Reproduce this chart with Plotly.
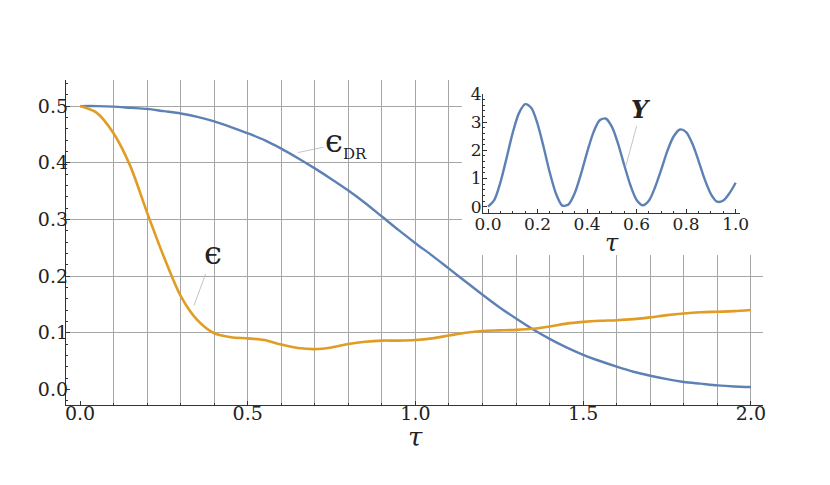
import plotly.graph_objects as go

# main panel
tau = [round(i * 0.05, 2) for i in range(41)]
eps_dr = [0.500, 0.500, 0.499, 0.497, 0.495, 0.491, 0.487, 0.481, 0.473, 0.463,
          0.452, 0.440, 0.425, 0.408, 0.390, 0.371, 0.351, 0.329, 0.305, 0.281,
          0.258, 0.236, 0.213, 0.190, 0.167, 0.145, 0.125, 0.106, 0.089, 0.074,
          0.061, 0.050, 0.040, 0.031, 0.024, 0.018, 0.013, 0.010, 0.007, 0.005,
          0.004]
eps = [0.500, 0.488, 0.452, 0.394, 0.312, 0.234, 0.165, 0.122, 0.099, 0.092,
       0.090, 0.087, 0.079, 0.073, 0.071, 0.074, 0.080, 0.084, 0.086, 0.086,
       0.087, 0.090, 0.095, 0.100, 0.103, 0.104, 0.105, 0.107, 0.111, 0.116,
       0.119, 0.121, 0.122, 0.124, 0.127, 0.131, 0.134, 0.136, 0.137, 0.138,
       0.140]

# inset
tau_in = [round(i * 0.025, 3) for i in range(41)]
y_in = [0.00, 0.23, 0.86, 1.73, 2.63, 3.32, 3.64, 3.50, 2.94, 2.10,
        1.19, 0.45, 0.04, 0.08, 0.48, 1.15, 1.93, 2.62, 3.06, 3.13,
        2.84, 2.24, 1.48, 0.76, 0.24, 0.05, 0.22, 0.70, 1.33, 2.00,
        2.50, 2.74, 2.65, 2.24, 1.63, 0.97, 0.45, 0.18, 0.22, 0.48,
        0.85]

grid_x = [round(0.1 * i, 1) for i in range(1, 21)]
grid_y = [0.1, 0.2, 0.3, 0.4, 0.5]
xticks = [0, 0.5, 1.0, 1.5, 2.0]
yticks = [0, 0.1, 0.2, 0.3, 0.4, 0.5]
xticks_in = [0, 0.2, 0.4, 0.6, 0.8, 1.0]
yticks_in = [0, 1, 2, 3, 4]

BLUE = '#5E81B5'
ORANGE = '#E19C24'
GRID = '#a6a6a6'
AX = '#333333'
FONT = 'DejaVu Serif'

xr = [-0.0417, 2.036]
yr = [-0.0277, 0.546]

fig = go.Figure()
fig.add_trace(go.Scatter(x=tau, y=eps_dr, mode='lines', line=dict(color=BLUE, width=2.4, shape='spline', smoothing=0.8)))
fig.add_trace(go.Scatter(x=tau, y=eps, mode='lines', line=dict(color=ORANGE, width=2.6, shape='spline', smoothing=0.8)))
# empty trace so the label axes exist
fig.add_trace(go.Scatter(x=[], y=[], xaxis='x3', yaxis='y3'))
fig.add_trace(go.Scatter(x=tau_in, y=y_in, mode='lines', xaxis='x2', yaxis='y2',
                         line=dict(color=BLUE, width=2.4, shape='spline', smoothing=0.8)))

fig.update_layout(
    template='none',
    width=830, height=485, showlegend=False,
    margin=dict(l=0, r=0, t=0, b=0),
    paper_bgcolor='white', plot_bgcolor='white',
    font=dict(family=FONT, color='#222222'),
    xaxis=dict(domain=[0.0699, 0.9096], range=xr, tickvals=grid_x, showticklabels=False,
               showgrid=True, gridcolor=GRID, gridwidth=1.4, zeroline=False, automargin=False,
               showline=True, linecolor=AX, linewidth=1, ticks=''),
    yaxis=dict(domain=[0.1814, 0.8515], range=yr, tickvals=grid_y, showticklabels=False,
               showgrid=True, gridcolor=GRID, gridwidth=1.4, zeroline=False, automargin=False,
               showline=True, linecolor=AX, linewidth=1, ticks=''),
    xaxis3=dict(overlaying='x', anchor='y3', range=xr, tickvals=xticks, automargin=False,
                ticktext=['%.1f' % v for v in xticks], showgrid=False, zeroline=False,
                ticks='inside', ticklen=4, tickcolor=AX, tickfont=dict(size=19),
                ticklabelstandoff=-5,
                minor=dict(dtick=0.1, ticks='inside', ticklen=2, tickcolor=AX)),
    yaxis3=dict(overlaying='y', anchor='x3', range=yr, tickvals=yticks, automargin=False,
                ticktext=['%.1f' % v for v in yticks], showgrid=False, zeroline=False,
                ticks='inside', ticklen=4, tickcolor=AX, tickfont=dict(size=19),
                ticklabelstandoff=-3,
                minor=dict(dtick=0.02, ticks='inside', ticklen=2, tickcolor=AX)),
    xaxis2=dict(domain=[0.5723, 0.8819], anchor='y2', range=[-0.0202, 1.0174],
                tickvals=xticks_in, ticktext=['%.1f' % v for v in xticks_in], automargin=False,
                showgrid=False, zeroline=False, showline=True, linecolor=AX, linewidth=1,
                ticks='inside', ticklen=4, tickcolor=AX, tickfont=dict(size=17),
                ticklabelstandoff=-4,
                minor=dict(dtick=0.05, ticks='inside', ticklen=2, tickcolor=AX)),
    yaxis2=dict(domain=[0.5773, 0.8227], anchor='x2', range=[-0.224, 4.0],
                tickvals=yticks_in, ticktext=[str(v) for v in yticks_in], automargin=False,
                showgrid=False, zeroline=False, showline=True, linecolor=AX, linewidth=1,
                ticks='inside', ticklen=4, tickcolor=AX, tickfont=dict(size=17),
                ticklabelstandoff=-3,
                minor=dict(dtick=0.2, ticks='inside', ticklen=2, tickcolor=AX)),
)

# white panel behind the inset hides the grid there
fig.add_shape(type='rect', xref='x', yref='y', x0=1.1386, x1=2.2, y0=0.237, y1=0.7,
              fillcolor='white', line=dict(width=0), layer='between')

lead = dict(showarrow=True, arrowhead=0, arrowwidth=0.8, arrowcolor='#b5b5b5')
fig.add_annotation(x=0.34, y=0.148, ax=19, ay=-52, text='ϵ', font=dict(size=32), **lead)
fig.add_annotation(x=0.65, y=0.418, ax=48, ay=-10,
                   text='ϵ<sub><span style="font-size:15px">DR</span></sub>',
                   font=dict(size=32), **lead)
fig.add_annotation(xref='x2', yref='y2', x=0.557, y=1.45, ax=15, ay=-56,
                   text='<b><i>Y</i></b>', font=dict(size=24), **lead)
fig.add_annotation(xref='paper', yref='paper', x=0.4904, y=0.1155, showarrow=False,
                   xanchor='center', yanchor='middle', text='<i>τ</i>', font=dict(size=26))
fig.add_annotation(xref='paper', yref='paper', x=0.7277, y=0.5155, showarrow=False,
                   xanchor='center', yanchor='middle', text='<i>τ</i>', font=dict(size=24))

fig.write_html("out.html")
